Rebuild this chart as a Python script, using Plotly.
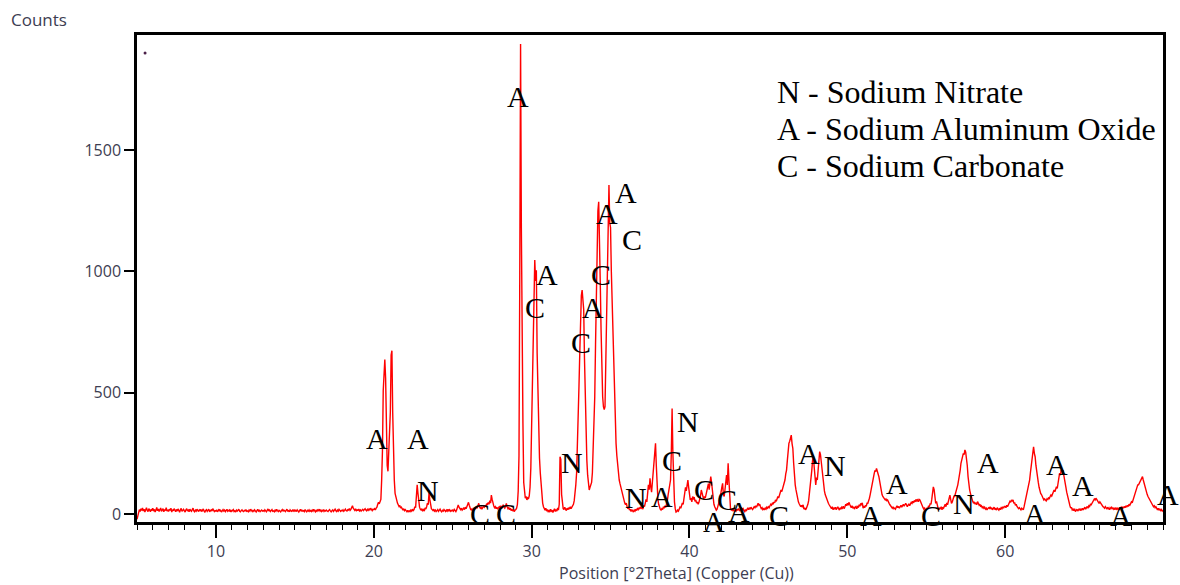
import plotly.graph_objects as go

# XRD scan, step 0.05 deg 2-theta starting at 5.00 deg
two_theta_start = 5.0
two_theta_step = 0.05

counts_05_10 = [
    -22, -10, 5, 18, 10, 22, 14, 25, 12, 20, 8, 18, 26, 15, 10, 22, 17, 9, 20, 14,
    24, 12, 19, 8, 16, 27, 13, 21, 10, 18, 25, 11, 16, 22, 9, 19, 14, 26, 12, 17,
    10, 20, 15, 24, 8, 18, 13, 22, 16, 9, 19, 12, 21, 14, 7, 17, 23, 11, 15, 19,
    13, 8, 17, 22, 12, 16, 9, 20, 14, 11, 18, 24, 13, 9, 16, 12, 20, 15, 10, 17,
    14, 19, 10, 16, 21, 12, 8, 15, 18, 11, 14, 20, 9, 13, 17, 12, 22, 16, 10, 14,
]
counts_10_15 = [
    12, 17, 9, 14, 20, 11, 15, 8, 13, 18, 12, 16, 10, 14, 19, 11, 13, 17, 9, 15,
    11, 14, 18, 10, 13, 8, 16, 12, 15, 20, 11, 9, 14, 17, 12, 10, 15, 13, 18, 11,
    13, 9, 16, 12, 20, 14, 10, 15, 11, 17, 13, 8, 14, 19, 12, 15, 10, 13, 16, 12,
    14, 11, 17, 13, 9, 15, 21, 12, 16, 10, 14, 18, 11, 13, 9, 16, 12, 19, 14, 10,
    15, 12, 9, 14, 18, 11, 16, 13, 10, 15, 20, 12, 14, 9, 17, 13, 11, 16, 12, 18,
]
counts_15_20 = [
    12, 15, 10, 17, 13, 8, 14, 19, 11, 16, 12, 14, 10, 18, 13, 9, 15, 12, 17, 11,
    14, 10, 16, 12, 19, 13, 9, 15, 11, 17, 14, 20, 12, 16, 10, 13, 18, 11, 15, 12,
    16, 12, 10, 15, 18, 13, 9, 14, 17, 11, 15, 20, 13, 10, 16, 12, 19, 14, 11, 15,
    13, 17, 11, 15, 20, 14, 12, 18, 16, 22, 15, 19, 26, 34, 24, 18, 15, 21, 14, 17,
    15, 20, 13, 17, 12, 16, 19, 14, 18, 22, 16, 13, 19, 15, 21, 17, 24, 18, 14, 20,
]
counts_20_25 = [
    18, 22, 17, 24, 28, 40, 48, 42, 50, 60, 140, 260, 510, 600, 637, 560, 346, 200, 176, 290,
    300, 420, 655, 673, 416, 220, 140, 85, 62, 58, 45, 38, 31, 35, 24, 28, 20, 16, 22, 14,
    18, 12, 9, 15, 8, 13, 10, 16, 12, 20, 14, 18, 30, 26, 70, 120, 85, 35, 28, 20,
    16, 22, 14, 18, 12, 25, 20, 30, 45, 38, 86, 60, 32, 22, 18, 14, 20, 12, 16, 10,
    14, 18, 11, 16, 20, 13, 9, 15, 12, 18, 14, 10, 16, 12, 19, 13, 17, 11, 15, 12,
]
counts_25_30 = [
    16, 12, 19, 14, 10, 17, 24, 37, 28, 22, 18, 24, 16, 20, 26, 18, 28, 22, 30, 40,
    48, 36, 22, 16, 20, 14, 22, 18, 26, 20, 30, 24, 34, 44, 30, 24, 28, 20, 26, 32,
    28, 36, 30, 42, 38, 48, 40, 55, 45, 78, 60, 42, 34, 26, 30, 22, 28, 20, 24, 30,
    26, 34, 22, 30, 38, 28, 24, 32, 44, 30, 22, 26, 18, 24, 14, 20, 12, 18, 10, 16,
    18, 24, 40, 95, 240, 990, 1937, 1180, 600, 375, 130, 80, 65, 72, 58, 66, 62, 75, 110, 190,
]
counts_30_35 = [
    370, 480, 621, 860, 1047, 960, 1004, 662, 470, 318, 230, 169, 110, 70, 45, 30, 22, 16, 24, 12,
    18, 10, 14, 8, 20, 12, 16, 6, 14, 22, 10, 18, 12, 25, 16, 40, 236, 225, 80, 30,
    22, 18, 28, 20, 14, 24, 18, 26, 20, 30, 22, 28, 35, 40, 55, 80, 120, 169, 260, 380,
    525, 660, 854, 900, 923, 870, 843, 640, 480, 305, 220, 160, 120, 99, 110, 120, 130, 170, 260, 380,
    483, 700, 900, 1034, 1250, 1287, 1170, 950, 758, 600, 483, 442, 430, 442, 600, 758, 1000, 1184, 1356, 1200,
]
counts_35_40 = [
    1180, 1000, 869, 720, 593, 470, 375, 290, 240, 195, 160, 140, 125, 112, 100, 80, 62, 50, 45, 38,
    45, 30, 22, 28, 16, 20, 10, 18, 14, 8, 16, 12, 20, 14, 22, 18, 26, 20, 30, 24,
    28, 20, 35, 30, 45, 60, 50, 80, 120, 100, 147, 112, 90, 130, 180, 230, 264, 291, 200, 99,
    60, 40, 25, 20, 16, 22, 18, 30, 24, 34, 27, 40, 55, 80, 100, 126, 140, 250, 435, 250,
    120, 50, 22, 8, 10, 16, 12, 22, 28, 24, 35, 45, 40, 60, 85, 110, 95, 125, 140, 110,
]
counts_40_45 = [
    80, 58, 65, 50, 72, 60, 70, 52, 58, 45, 50, 40, 48, 60, 75, 99, 85, 70, 60, 72,
    65, 80, 95, 110, 125, 100, 120, 154, 130, 90, 60, 40, 30, 22, 16, 20, 28, 44, 60, 72,
    90, 110, 126, 80, 72, 100, 130, 160, 120, 209, 140, 44, 22, 16, 20, 14, 18, 10, 16, 12,
    20, 15, 22, 17, 12, 20, 26, 18, 22, 14, 10, 18, 12, 20, 24, 18, 26, 20, 28, 22,
    18, 24, 30, 26, 34, 28, 38, 44, 36, 40, 30, 22, 26, 18, 22, 17, 24, 20, 28, 24,
]
counts_45_50 = [
    30, 26, 34, 40, 36, 44, 40, 50, 46, 58, 52, 64, 72, 66, 80, 85, 99, 92, 105, 112,
    120, 140, 165, 181, 220, 260, 291, 300, 320, 325, 290, 270, 210, 154, 120, 99, 75, 60, 50, 42,
    38, 30, 36, 28, 38, 20, 26, 17, 22, 30, 40, 55, 80, 112, 140, 180, 222, 240, 195, 140,
    120, 150, 140, 180, 236, 257, 245, 209, 180, 150, 112, 95, 80, 70, 58, 50, 44, 38, 30, 26,
    22, 30, 17, 26, 20, 28, 18, 24, 30, 22, 16, 26, 20, 28, 24, 32, 22, 30, 40, 34,
]
counts_50_55 = [
    44, 36, 48, 40, 32, 26, 34, 24, 30, 20, 28, 31, 22, 30, 26, 38, 32, 44, 36, 46,
    24, 30, 26, 36, 32, 44, 44, 52, 65, 80, 100, 120, 140, 154, 165, 180, 175, 188, 180, 165,
    154, 130, 110, 90, 80, 72, 66, 60, 58, 62, 55, 58, 48, 44, 38, 32, 28, 24, 30, 22,
    24, 20, 28, 34, 26, 31, 24, 30, 36, 28, 34, 40, 32, 38, 44, 38, 30, 36, 42, 34,
    40, 48, 44, 52, 46, 56, 50, 60, 54, 58, 50, 60, 58, 48, 40, 32, 26, 20, 24, 17,
]
counts_55_60 = [
    17, 26, 22, 34, 30, 44, 40, 60, 80, 112, 100, 70, 44, 52, 30, 24, 17, 26, 20, 30,
    17, 28, 24, 34, 40, 30, 46, 38, 55, 70, 78, 60, 44, 50, 60, 72, 72, 85, 92, 99,
    120, 140, 154, 180, 209, 225, 236, 250, 245, 264, 255, 236, 200, 154, 120, 99, 85, 70, 55, 51,
    44, 50, 40, 46, 38, 51, 44, 36, 40, 30, 34, 26, 30, 24, 28, 20, 24, 17, 22, 26,
    23, 30, 20, 26, 17, 24, 28, 18, 22, 16, 26, 20, 16, 24, 18, 26, 22, 30, 24, 31,
]
counts_60_65 = [
    31, 26, 36, 30, 40, 44, 52, 48, 58, 54, 58, 44, 48, 36, 40, 31, 28, 22, 26, 17,
    17, 24, 20, 17, 30, 44, 58, 70, 85, 100, 120, 140, 170, 195, 230, 260, 277, 250, 236, 200,
    170, 154, 130, 110, 95, 85, 80, 72, 66, 58, 62, 58, 54, 62, 58, 68, 64, 72, 78, 74,
    85, 92, 99, 92, 105, 112, 105, 125, 150, 168, 160, 181, 175, 181, 165, 150, 126, 110, 90, 72,
    60, 44, 35, 24, 28, 17, 20, 14, 22, 10, 16, 20, 12, 18, 22, 14, 20, 17, 24, 17,
]
counts_65_70 = [
    22, 28, 20, 26, 31, 24, 34, 31, 40, 38, 46, 52, 56, 62, 58, 65, 60, 52, 48, 44,
    50, 44, 40, 34, 30, 28, 24, 30, 24, 20, 28, 24, 18, 26, 22, 28, 24, 20, 26, 18,
    24, 20, 26, 17, 22, 17, 24, 28, 20, 30, 24, 31, 26, 34, 28, 36, 31, 40, 36, 44,
    50, 46, 58, 66, 72, 85, 99, 110, 120, 120, 126, 135, 140, 150, 154, 140, 126, 112, 99, 85,
    80, 72, 66, 58, 50, 44, 40, 38, 30, 34, 26, 30, 22, 17, 24, 17, 20, 14, 18, 12,
    16,
]

# Phase markers: letter, 2-theta, counts (label centre)
peak_letters = ["A", "A", "A", "C", "C", "A", "C", "A", "C", "A", "A", "N",
                "C", "C", "N", "N", "C", "N", "A", "C", "A", "C", "A", "C",
                "A", "N", "A", "A", "C", "N", "A", "A", "A", "A", "A"]
peak_theta = [29.14, 35.98, 34.78, 36.35, 34.39, 30.97, 30.21, 33.89, 33.13, 20.22, 22.81, 23.44,
              26.74, 28.39, 32.55, 39.90, 38.89, 36.61, 38.26, 40.92, 41.55, 42.37, 43.13, 45.66,
              47.56, 49.20, 51.48, 53.13, 55.28, 57.37, 58.89, 61.86, 63.26, 64.90, 67.37]
peak_label_counts = [1722, 1323, 1240, 1133, 985, 985, 849, 853, 705, 313, 313, 95,
                     4, 4, 214, 383, 222, 70, 74, 103, -29, 58, 12, -8,
                     251, 198, -8, 124, -8, 45, 214, 0, 206, 119, -8]

legend_lines = ["N - Sodium Nitrate", "A - Sodium Aluminum Oxide", "C - Sodium Carbonate"]

x_tick_values = [10, 20, 30, 40, 50, 60]
x_title = "Position [°2Theta] (Copper (Cu))"
y_title = "Counts"

counts = (counts_05_10 + counts_10_15 + counts_15_20 + counts_20_25 + counts_25_30
          + counts_30_35 + counts_35_40 + counts_40_45 + counts_45_50 + counts_50_55
          + counts_55_60 + counts_60_65 + counts_65_70)

tick_font = dict(family="Open Sans, Noto Sans, sans-serif", size=16, color="#3d3d52")
serif = "Liberation Serif, Times New Roman, serif"

fig = go.Figure()
fig.add_trace(go.Scatter(
    x0=two_theta_start, dx=two_theta_step, y=counts,
    mode="lines", line=dict(color="#ff0000", width=1.4),
    hoverinfo="x+y", showlegend=False,
))
# small marker dot near the top-left corner of the frame
fig.add_trace(go.Scatter(
    x=[5.51], y=[1900], mode="markers",
    marker=dict(size=3, color="#4a2048"), showlegend=False, hoverinfo="skip",
))

annotations = []
for letter, xt, yc in zip(peak_letters, peak_theta, peak_label_counts):
    annotations.append(dict(
        x=xt, y=yc, xref="x", yref="y", text=letter, showarrow=False,
        xanchor="center", yanchor="middle",
        font=dict(family=serif, size=30, color="black"),
    ))
# trailing "A" sitting just beyond the right edge of the frame
annotations.append(dict(
    x=1.005, y=82, xref="paper", yref="y", text="A", showarrow=False,
    xanchor="center", yanchor="middle",
    font=dict(family=serif, size=30, color="black"),
))
for i, line in enumerate(legend_lines):
    annotations.append(dict(
        x=0.622, y=0.883 - i * 0.076, xref="paper", yref="paper", text=line,
        showarrow=False, xanchor="left", yanchor="middle",
        font=dict(family=serif, size=32, color="black"),
    ))
annotations.append(dict(
    x=-0.125, y=1.031, xref="paper", yref="paper", text=y_title, showarrow=False,
    xanchor="left", yanchor="middle", font=dict(tick_font, size=17),
))
annotations.append(dict(
    x=0.526, y=-0.104, xref="paper", yref="paper", text=x_title, showarrow=False,
    xanchor="center", yanchor="middle", font=tick_font,
))

fig.update_layout(
    width=1180, height=585,
    margin=dict(l=137, r=17, t=35, b=63),
    paper_bgcolor="white", plot_bgcolor="white",
    annotations=annotations,
    xaxis=dict(
        range=[5, 70], tickmode="array", tickvals=x_tick_values,
        ticks="outside", ticklen=13, tickwidth=1.5,
        tickcolor="black", showline=True, linewidth=2.5, linecolor="black", mirror=True,
        showgrid=False, zeroline=False, tickfont=tick_font,
        minor=dict(dtick=1, tick0=0, ticks="outside", ticklen=5, tickwidth=1.2,
                   tickcolor="black", showgrid=False),
    ),
    yaxis=dict(
        range=[-33, 1974], tick0=0, dtick=500, ticks="outside", ticklen=10, tickwidth=1.5,
        tickcolor="black", showline=True, linewidth=2.5, linecolor="black", mirror=True,
        showgrid=False, zeroline=False, tickfont=tick_font,
    ),
)

fig.write_html("out.html")
